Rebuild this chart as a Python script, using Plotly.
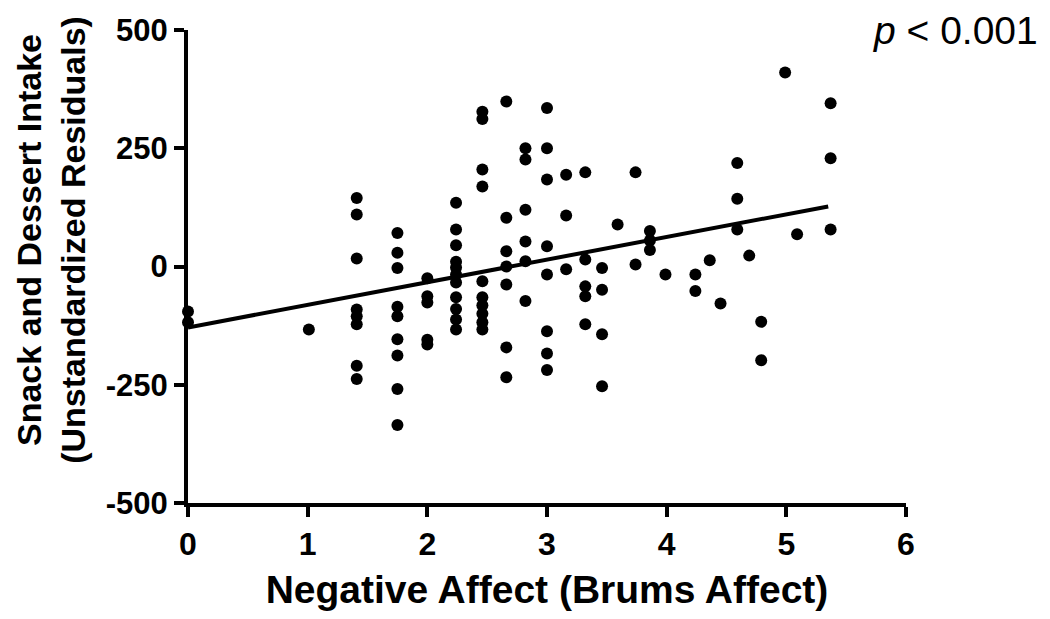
"""Snack and dessert intake residuals vs negative affect (BRUMS)."""

import plotly.graph_objects as go

# ---------------------------------------------------------------------------
# Data
# ---------------------------------------------------------------------------

affect = (
    [0.0] * 2
    + [1.01]
    + [1.41] * 8
    + [1.75] * 9
    + [2.0] * 5
    + [2.24] * 11
    + [2.46] * 10
    + [2.66] * 7
    + [2.82] * 6
    + [3.0] * 8
    + [3.16] * 3
    + [3.32] * 5
    + [3.46] * 4
    + [3.59]
    + [3.74] * 2
    + [3.86] * 3
    + [3.99]
    + [4.24] * 2
    + [4.36]
    + [4.45]
    + [4.59] * 3
    + [4.69]
    + [4.79] * 2
    + [4.99]
    + [5.09]
    + [5.37] * 3
)

residuals = [
    -95, -118,
    -133,
    145, 110, 17, -91, -105, -122, -210, -238,
    71, 29, -3, -85, -105, -154, -188, -259, -335,
    -25, -63, -76, -155, -165,
    135, 78, 45, 10, -2, -17, -34, -65, -90, -112, -133,
    327, 312, 205, 169, -31, -65, -82, -100, -118, -133,
    349, 103, 32, 0, -38, -171, -234,
    250, 226, 120, 53, 11, -73,
    335, 250, 184, 43, -17, -137, -184, -219,
    194, 108, -6,
    199, 15, -42, -63, -122,
    -3, -49, -143, -253,
    89,
    199, 4,
    75, 55, 35,
    -17,
    -17, -52,
    13,
    -78,
    219, 143, 78,
    23,
    -117, -198,
    410,
    68,
    345, 229, 78,
]

# regression line endpoints
fit_x = [0.0, 5.35]
fit_y = [-129, 127]

x_ticks = [0, 1, 2, 3, 4, 5, 6]
y_ticks = [-500, -250, 0, 250, 500]
y_tick_text = ["-500", "-250", "0", "250", "500"]

FONT = "Liberation Sans, Arial, sans-serif"
INK = "#000000"

# ---------------------------------------------------------------------------
# Figure
# ---------------------------------------------------------------------------

fig = go.Figure()
fig.add_trace(go.Scatter(
    x=affect, y=residuals, mode="markers",
    marker=dict(color=INK, size=12, line=dict(width=0)),
    showlegend=False, cliponaxis=False,
))
fig.add_trace(go.Scatter(
    x=fit_x, y=fit_y, mode="lines",
    line=dict(color=INK, width=4),
    showlegend=False, cliponaxis=False,
))

axis_common = dict(
    showgrid=False, zeroline=False, automargin=False,
    showline=True, linecolor=INK, linewidth=4,
    ticks="outside", ticklen=10, tickwidth=4, tickcolor=INK,
)

# the page body keeps an 8px margin, so the figure is sized to fit inside it
fig.update_layout(
    width=1034, height=603,
    paper_bgcolor="white", plot_bgcolor="white",
    margin=dict(l=180, r=136, t=22, b=108),
    font=dict(family=FONT, color=INK),
    xaxis=dict(
        range=[0, 6], tickvals=x_ticks,
        tickfont=dict(family=FONT, size=32, color=INK, weight="bold"),
        title=dict(text="<b>Negative Affect (Brums Affect)</b>",
                   font=dict(family=FONT, size=39, color=INK), standoff=21),
        **axis_common,
    ),
    yaxis=dict(
        range=[-500, 500], tickvals=y_ticks, ticktext=y_tick_text,
        tickfont=dict(family=FONT, size=31, color=INK, weight="bold"),
        **axis_common,
    ),
    annotations=[
        dict(
            text="<b>Snack and Dessert Intake<br>(Unstandardized Residuals)</b>",
            xref="paper", yref="paper", x=-0.191, y=0.556,
            xanchor="center", yanchor="middle", textangle=-90,
            showarrow=False, font=dict(family=FONT, size=34, color=INK),
        ),
        dict(
            text="<i>p</i> &lt; 0.001", xref="paper", yref="paper",
            x=1.187, y=0.998, xanchor="right", yanchor="middle",
            showarrow=False, font=dict(family=FONT, size=39, color=INK),
        ),
    ],
)

fig.write_html("out.html")
